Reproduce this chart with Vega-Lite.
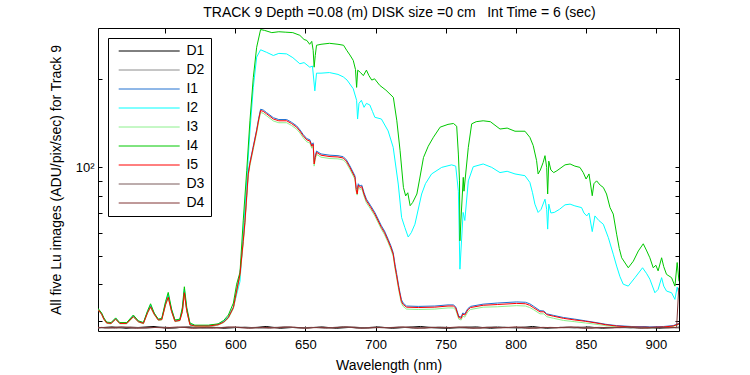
{
"$schema": "https://vega.github.io/schema/vega-lite/v6.json",
"width": 581, "height": 303,
"autosize": {"type": "none"},
"padding": {"left": 98, "top": 28, "right": 71, "bottom": 44},
"background": "white",
"title": {"text": "TRACK 9 Depth =0.08 (m) DISK size =0 cm \u00a0 Int Time = 6 (sec)", "fontSize": 14, "fontWeight": "normal", "font": "Liberation Sans", "color": "black", "anchor": "middle", "dx": 11, "dy": 14, "offset": 8, "baseline": "bottom"},
"config": {
  "font": "Liberation Sans",
  "view": {"stroke": "black", "strokeWidth": 1},
  "axis": {"labelFont": "Liberation Sans", "titleFont": "Liberation Sans", "labelColor": "black", "titleColor": "black", "tickColor": "black", "tickWidth": 1, "domain": false, "grid": false, "titleFontWeight": "normal"}
},
"data": {"values": [
{"s":"D1","w":502,"v":28.5},{"s":"D1","w":512,"v":28.7},{"s":"D1","w":522,"v":28.4},{"s":"D1","w":532,"v":28.6},{"s":"D1","w":542,"v":28.8},{"s":"D1","w":552,"v":28.4},{"s":"D1","w":562,"v":28.6},{"s":"D1","w":572,"v":28.5},{"s":"D1","w":582,"v":28.7},{"s":"D1","w":592,"v":28.4},{"s":"D1","w":602,"v":28.6},{"s":"D1","w":612,"v":28.5},{"s":"D1","w":622,"v":28.8},{"s":"D1","w":632,"v":28.4},{"s":"D1","w":642,"v":28.6},{"s":"D1","w":652,"v":28.5},{"s":"D1","w":662,"v":28.7},{"s":"D1","w":672,"v":28.4},{"s":"D1","w":682,"v":28.6},{"s":"D1","w":692,"v":28.5},{"s":"D1","w":702,"v":28.7},{"s":"D1","w":712,"v":28.4},{"s":"D1","w":722,"v":28.6},{"s":"D1","w":732,"v":28.8},{"s":"D1","w":742,"v":28.5},{"s":"D1","w":752,"v":28.4},{"s":"D1","w":762,"v":28.6},{"s":"D1","w":772,"v":28.7},{"s":"D1","w":782,"v":28.4},{"s":"D1","w":792,"v":28.6},{"s":"D1","w":802,"v":28.5},{"s":"D1","w":812,"v":28.8},{"s":"D1","w":822,"v":28.4},{"s":"D1","w":832,"v":28.6},{"s":"D1","w":842,"v":28.5},{"s":"D1","w":852,"v":28.7},{"s":"D1","w":862,"v":28.4},{"s":"D1","w":872,"v":28.6},{"s":"D1","w":882,"v":28.5},{"s":"D1","w":892,"v":28.7},{"s":"D1","w":902,"v":28.4},{"s":"D1","w":912,"v":28.6},{"s":"D1","w":916.5,"v":28.5},
{"s":"D2","w":502,"v":28.6},{"s":"D2","w":507,"v":28.4},{"s":"D2","w":517,"v":28.7},{"s":"D2","w":527,"v":28.5},{"s":"D2","w":537,"v":28.4},{"s":"D2","w":547,"v":28.7},{"s":"D2","w":557,"v":28.5},{"s":"D2","w":567,"v":28.8},{"s":"D2","w":577,"v":28.4},{"s":"D2","w":587,"v":28.6},{"s":"D2","w":597,"v":28.5},{"s":"D2","w":607,"v":28.7},{"s":"D2","w":617,"v":28.4},{"s":"D2","w":627,"v":28.6},{"s":"D2","w":637,"v":28.7},{"s":"D2","w":647,"v":28.4},{"s":"D2","w":657,"v":28.6},{"s":"D2","w":667,"v":28.5},{"s":"D2","w":677,"v":28.8},{"s":"D2","w":687,"v":28.4},{"s":"D2","w":697,"v":28.6},{"s":"D2","w":707,"v":28.5},{"s":"D2","w":717,"v":28.7},{"s":"D2","w":727,"v":28.4},{"s":"D2","w":737,"v":28.6},{"s":"D2","w":747,"v":28.7},{"s":"D2","w":757,"v":28.5},{"s":"D2","w":767,"v":28.4},{"s":"D2","w":777,"v":28.6},{"s":"D2","w":787,"v":28.8},{"s":"D2","w":797,"v":28.5},{"s":"D2","w":807,"v":28.4},{"s":"D2","w":817,"v":28.6},{"s":"D2","w":827,"v":28.5},{"s":"D2","w":837,"v":28.7},{"s":"D2","w":847,"v":28.4},{"s":"D2","w":857,"v":28.6},{"s":"D2","w":867,"v":28.5},{"s":"D2","w":877,"v":28.7},{"s":"D2","w":887,"v":28.4},{"s":"D2","w":897,"v":28.6},{"s":"D2","w":907,"v":28.5},{"s":"D2","w":916.5,"v":28.6},
{"s":"I1","w":502,"v":33.0},{"s":"I1","w":504.6,"v":31.8},{"s":"I1","w":506.2,"v":30.6},{"s":"I1","w":508.2,"v":29.7},{"s":"I1","w":511.3,"v":29.6},{"s":"I1","w":514.6,"v":30.6},{"s":"I1","w":517.5,"v":29.6},{"s":"I1","w":522.5,"v":29.5},{"s":"I1","w":527.2,"v":31.3},{"s":"I1","w":530.8,"v":30.0},{"s":"I1","w":534.4,"v":29.6},{"s":"I1","w":537.4,"v":32.3},{"s":"I1","w":539.5,"v":33.8},{"s":"I1","w":542.1,"v":31.8},{"s":"I1","w":545,"v":30.4},{"s":"I1","w":547.5,"v":30.5},{"s":"I1","w":550.2,"v":34.4},{"s":"I1","w":552.1,"v":36.5},{"s":"I1","w":554.5,"v":32.6},{"s":"I1","w":556.9,"v":30.1},{"s":"I1","w":560.4,"v":30.3},{"s":"I1","w":562.2,"v":32.6},{"s":"I1","w":563.6,"v":37.8},{"s":"I1","w":565.3,"v":32.8},{"s":"I1","w":567.6,"v":29.3},{"s":"I1","w":571.1,"v":29.0},{"s":"I1","w":580.7,"v":29.0},{"s":"I1","w":587.7,"v":29.3},{"s":"I1","w":591.7,"v":29.9},{"s":"I1","w":595,"v":31.0},{"s":"I1","w":598.6,"v":33.5},{"s":"I1","w":600.9,"v":38.2},{"s":"I1","w":603.3,"v":43.6},{"s":"I1","w":605.6,"v":56.5},{"s":"I1","w":606.8,"v":65.6},{"s":"I1","w":608.1,"v":81},{"s":"I1","w":609.2,"v":96},{"s":"I1","w":610.4,"v":104},{"s":"I1","w":612.8,"v":118.2},{"s":"I1","w":615.2,"v":134.3},{"s":"I1","w":616.6,"v":146.5},{"s":"I1","w":618,"v":157.6},{"s":"I1","w":619.9,"v":156.6},{"s":"I1","w":622.3,"v":153.5},{"s":"I1","w":627.1,"v":147.5},{"s":"I1","w":631,"v":145.4},{"s":"I1","w":636.6,"v":145.4},{"s":"I1","w":640,"v":142.4},{"s":"I1","w":643.7,"v":138.4},{"s":"I1","w":646,"v":134.3},{"s":"I1","w":648.4,"v":129.3},{"s":"I1","w":651,"v":125.2},{"s":"I1","w":653.1,"v":124.2},{"s":"I1","w":654.5,"v":119.2},{"s":"I1","w":655.5,"v":121.2},{"s":"I1","w":656.2,"v":104.5},{"s":"I1","w":657,"v":109.1},{"s":"I1","w":657.9,"v":113.6},{"s":"I1","w":661.1,"v":111.1},{"s":"I1","w":667.5,"v":110},{"s":"I1","w":673.2,"v":109.6},{"s":"I1","w":677,"v":108.7},{"s":"I1","w":679.2,"v":106.1},{"s":"I1","w":681.7,"v":101.2},{"s":"I1","w":685.3,"v":93.6},{"s":"I1","w":686.2,"v":85.5},{"s":"I1","w":686.9,"v":84},{"s":"I1","w":687.7,"v":88},{"s":"I1","w":688.8,"v":86.5},{"s":"I1","w":690.2,"v":87},{"s":"I1","w":691.8,"v":82},{"s":"I1","w":693.5,"v":78},{"s":"I1","w":696.3,"v":74.4},{"s":"I1","w":699.5,"v":70.3},{"s":"I1","w":704.2,"v":63.3},{"s":"I1","w":706.4,"v":60.8},{"s":"I1","w":709,"v":57},{"s":"I1","w":710.9,"v":54.2},{"s":"I1","w":712.6,"v":51.3},{"s":"I1","w":713.9,"v":46.8},{"s":"I1","w":714.9,"v":44},{"s":"I1","w":716.5,"v":39.6},{"s":"I1","w":717.4,"v":37.6},{"s":"I1","w":718.5,"v":35.5},{"s":"I1","w":719.7,"v":34.6},{"s":"I1","w":722.1,"v":33.8},{"s":"I1","w":730.5,"v":33.7},{"s":"I1","w":742.3,"v":33.8},{"s":"I1","w":751.7,"v":34.1},{"s":"I1","w":755.5,"v":34.1},{"s":"I1","w":757.2,"v":33.6},{"s":"I1","w":759.4,"v":31.2},{"s":"I1","w":761.1,"v":31.0},{"s":"I1","w":762.2,"v":32.0},{"s":"I1","w":763.7,"v":31.8},{"s":"I1","w":765.8,"v":33.1},{"s":"I1","w":767.8,"v":33.7},{"s":"I1","w":776.8,"v":34.3},{"s":"I1","w":786.9,"v":34.6},{"s":"I1","w":800.7,"v":34.9},{"s":"I1","w":807,"v":34.8},{"s":"I1","w":810,"v":34.4},{"s":"I1","w":812.5,"v":33.8},{"s":"I1","w":817.3,"v":32.6},{"s":"I1","w":820.1,"v":32.5},{"s":"I1","w":822.1,"v":31.8},{"s":"I1","w":827.1,"v":31.4},{"s":"I1","w":834,"v":30.9},{"s":"I1","w":842.2,"v":30.5},{"s":"I1","w":849.7,"v":30.1},{"s":"I1","w":857.3,"v":29.7},{"s":"I1","w":864.3,"v":29.3},{"s":"I1","w":872,"v":29.0},{"s":"I1","w":882.4,"v":28.8},{"s":"I1","w":895.7,"v":28.7},{"s":"I1","w":905.6,"v":28.8},{"s":"I1","w":912.3,"v":29.0},{"s":"I1","w":916.5,"v":29.5},
{"s":"I2","w":502,"v":33},{"s":"I2","w":504.6,"v":31.9},{"s":"I2","w":506.2,"v":30.7},{"s":"I2","w":508.2,"v":29.7},{"s":"I2","w":511.3,"v":29.6},{"s":"I2","w":514.6,"v":30.7},{"s":"I2","w":517.5,"v":29.6},{"s":"I2","w":522.5,"v":29.6},{"s":"I2","w":527.2,"v":31.3},{"s":"I2","w":530.8,"v":30},{"s":"I2","w":534.4,"v":29.6},{"s":"I2","w":537.4,"v":32.4},{"s":"I2","w":539.5,"v":34.1},{"s":"I2","w":542.1,"v":31.9},{"s":"I2","w":545,"v":30.4},{"s":"I2","w":547.5,"v":30.6},{"s":"I2","w":550.2,"v":34.7},{"s":"I2","w":552.1,"v":37},{"s":"I2","w":554.5,"v":32.8},{"s":"I2","w":556.9,"v":30.2},{"s":"I2","w":560.4,"v":30.4},{"s":"I2","w":562.2,"v":33},{"s":"I2","w":563.6,"v":38.6},{"s":"I2","w":565.3,"v":33},{"s":"I2","w":567.6,"v":29.4},{"s":"I2","w":571.1,"v":29},{"s":"I2","w":580.7,"v":29.0},
{"s":"I2","w":587.7,"v":29.3},{"s":"I2","w":591.7,"v":30},{"s":"I2","w":595,"v":31},{"s":"I2","w":598.6,"v":33.5},{"s":"I2","w":600.9,"v":37},{"s":"I2","w":603.3,"v":41},{"s":"I2","w":605.6,"v":59.3},{"s":"I2","w":608.1,"v":90},{"s":"I2","w":610.4,"v":133},{"s":"I2","w":612.8,"v":187},{"s":"I2","w":615.2,"v":237},{"s":"I2","w":618,"v":251},{"s":"I2","w":622.3,"v":246},{"s":"I2","w":627.1,"v":240},{"s":"I2","w":631,"v":244},{"s":"I2","w":636.6,"v":243},{"s":"I2","w":641,"v":236},{"s":"I2","w":646,"v":225},{"s":"I2","w":649,"v":227},{"s":"I2","w":653.1,"v":219},{"s":"I2","w":655,"v":221},{"s":"I2","w":656.7,"v":182},{"s":"I2","w":657.9,"v":209},{"s":"I2","w":661.1,"v":209},{"s":"I2","w":667.1,"v":210},{"s":"I2","w":673.2,"v":207},{"s":"I2","w":677,"v":203},{"s":"I2","w":679.7,"v":198},{"s":"I2","w":684.1,"v":185},{"s":"I2","w":686.5,"v":169},{"s":"I2","w":687.2,"v":146},{"s":"I2","w":688.2,"v":165},{"s":"I2","w":689.9,"v":169},{"s":"I2","w":691.8,"v":160},{"s":"I2","w":693.5,"v":165},{"s":"I2","w":695.9,"v":163},{"s":"I2","w":697.8,"v":155},{"s":"I2","w":699.5,"v":148},{"s":"I2","w":704.2,"v":146},{"s":"I2","w":709,"v":133},{"s":"I2","w":712.6,"v":117},{"s":"I2","w":716.2,"v":87.8},{"s":"I2","w":718.6,"v":67.6},{"s":"I2","w":720.9,"v":62.5},{"s":"I2","w":723.3,"v":58},{"s":"I2","w":725.5,"v":60},{"s":"I2","w":728.1,"v":64.1},{"s":"I2","w":732.9,"v":81.2},{"s":"I2","w":735.6,"v":88},{"s":"I2","w":740,"v":95},{"s":"I2","w":747.2,"v":100},{"s":"I2","w":754.3,"v":102},{"s":"I2","w":757.2,"v":101},{"s":"I2","w":759.1,"v":83},{"s":"I2","w":760.2,"v":45.1},{"s":"I2","w":762.5,"v":70.3},{"s":"I2","w":763.7,"v":66},{"s":"I2","w":766.2,"v":90},{"s":"I2","w":769.7,"v":100.5},{"s":"I2","w":776.8,"v":102.7},{"s":"I2","w":782.9,"v":100},{"s":"I2","w":788.8,"v":96},{"s":"I2","w":793.9,"v":97},{"s":"I2","w":799.5,"v":95},{"s":"I2","w":806.6,"v":93.7},{"s":"I2","w":810.1,"v":88.9},{"s":"I2","w":812,"v":82},{"s":"I2","w":813.7,"v":75},{"s":"I2","w":816,"v":70.3},{"s":"I2","w":818.1,"v":72},{"s":"I2","w":820.9,"v":78},{"s":"I2","w":822.1,"v":72},{"s":"I2","w":822.8,"v":61.7},{"s":"I2","w":823.6,"v":75},{"s":"I2","w":825.1,"v":70},{"s":"I2","w":827.5,"v":70.3},{"s":"I2","w":831.2,"v":72},{"s":"I2","w":835.2,"v":74.6},{"s":"I2","w":838.8,"v":75},{"s":"I2","w":842.2,"v":74},{"s":"I2","w":847,"v":73},{"s":"I2","w":848.7,"v":70},{"s":"I2","w":850.7,"v":68.4},{"s":"I2","w":852.3,"v":70},{"s":"I2","w":854.6,"v":60.5},{"s":"I2","w":856.5,"v":68.4},{"s":"I2","w":859.3,"v":66},{"s":"I2","w":862.5,"v":64.1},{"s":"I2","w":866.1,"v":57.7},{"s":"I2","w":869.6,"v":50.7},{"s":"I2","w":872,"v":46.2},{"s":"I2","w":874.4,"v":42.5},{"s":"I2","w":876.7,"v":40.1},{"s":"I2","w":880.3,"v":39.5},{"s":"I2","w":885.1,"v":42.2},{"s":"I2","w":890.5,"v":45.6},{"s":"I2","w":893.5,"v":43.5},{"s":"I2","w":895.7,"v":41.7},{"s":"I2","w":899.3,"v":37.5},{"s":"I2","w":901.6,"v":38.5},{"s":"I2","w":904.1,"v":42.2},{"s":"I2","w":905.6,"v":39.5},{"s":"I2","w":907.6,"v":38},{"s":"I2","w":911.2,"v":37.5},{"s":"I2","w":913.6,"v":35.6},{"s":"I2","w":915.2,"v":39.2},{"s":"I2","w":916.5,"v":37},
{"s":"I3","w":502,"v":32.8},{"s":"I3","w":504.6,"v":31.6},{"s":"I3","w":506.2,"v":30.4},{"s":"I3","w":508.2,"v":29.5},{"s":"I3","w":511.3,"v":29.4},{"s":"I3","w":514.6,"v":30.4},{"s":"I3","w":517.5,"v":29.4},{"s":"I3","w":522.5,"v":29.4},{"s":"I3","w":527.2,"v":31.0},{"s":"I3","w":530.8,"v":29.8},{"s":"I3","w":534.4,"v":29.4},{"s":"I3","w":537.4,"v":32.0},{"s":"I3","w":539.5,"v":33.4},{"s":"I3","w":542.1,"v":31.6},{"s":"I3","w":545,"v":30.2},{"s":"I3","w":547.5,"v":30.3},{"s":"I3","w":550.2,"v":34.0},{"s":"I3","w":552.1,"v":36.0},{"s":"I3","w":554.5,"v":32.3},{"s":"I3","w":556.9,"v":29.9},{"s":"I3","w":560.4,"v":30.1},{"s":"I3","w":562.2,"v":32.2},{"s":"I3","w":563.6,"v":37.2},{"s":"I3","w":565.3,"v":32.5},{"s":"I3","w":567.6,"v":29.1},{"s":"I3","w":571.1,"v":28.8},{"s":"I3","w":580.7,"v":28.8},{"s":"I3","w":587.7,"v":29.1},{"s":"I3","w":591.7,"v":29.7},{"s":"I3","w":595,"v":30.7},{"s":"I3","w":598.6,"v":33.1},{"s":"I3","w":600.9,"v":37.5},{"s":"I3","w":603.3,"v":42.7},{"s":"I3","w":605.6,"v":55},{"s":"I3","w":606.8,"v":64},{"s":"I3","w":608.1,"v":78.8},{"s":"I3","w":609.2,"v":93.6},{"s":"I3","w":610.4,"v":101.5},{"s":"I3","w":612.8,"v":115.2},{"s":"I3","w":615.2,"v":131},{"s":"I3","w":616.6,"v":142.8},{"s":"I3","w":618,"v":153.7},{"s":"I3","w":619.9,"v":152.7},{"s":"I3","w":622.3,"v":149.7},{"s":"I3","w":627.1,"v":143.8},{"s":"I3","w":631,"v":141.8},{"s":"I3","w":636.6,"v":141.8},{"s":"I3","w":640,"v":138.9},{"s":"I3","w":643.7,"v":134.9},{"s":"I3","w":646,"v":131},{"s":"I3","w":648.4,"v":126.1},{"s":"I3","w":651,"v":122.1},{"s":"I3","w":653.1,"v":121.2},{"s":"I3","w":654.5,"v":116.2},{"s":"I3","w":655.5,"v":118.2},{"s":"I3","w":656.2,"v":101},{"s":"I3","w":657,"v":106.4},{"s":"I3","w":657.9,"v":110.8},{"s":"I3","w":661.1,"v":108.3},{"s":"I3","w":667.5,"v":107.2},{"s":"I3","w":673.2,"v":106.9},{"s":"I3","w":677,"v":106},{"s":"I3","w":679.2,"v":103.4},{"s":"I3","w":681.7,"v":98.5},{"s":"I3","w":685.3,"v":91.1},{"s":"I3","w":686.2,"v":83},{"s":"I3","w":686.9,"v":80.5},{"s":"I3","w":687.7,"v":85.7},{"s":"I3","w":688.8,"v":84.2},{"s":"I3","w":690.2,"v":84.7},{"s":"I3","w":691.8,"v":79.8},{"s":"I3","w":693.5,"v":75.8},{"s":"I3","w":696.3,"v":72.4},{"s":"I3","w":699.5,"v":68.4},{"s":"I3","w":704.2,"v":61.6},{"s":"I3","w":706.4,"v":59.1},{"s":"I3","w":709,"v":55.5},{"s":"I3","w":710.9,"v":52.7},{"s":"I3","w":712.6,"v":49.9},{"s":"I3","w":713.9,"v":45.3},{"s":"I3","w":714.9,"v":42.6},{"s":"I3","w":716.5,"v":38.4},{"s":"I3","w":717.4,"v":36.5},{"s":"I3","w":718.5,"v":34.5},{"s":"I3","w":719.7,"v":33.7},{"s":"I3","w":722.1,"v":33.0},{"s":"I3","w":730.5,"v":32.9},{"s":"I3","w":742.3,"v":33.0},{"s":"I3","w":751.7,"v":33.3},{"s":"I3","w":755.5,"v":33.3},{"s":"I3","w":757.2,"v":32.8},{"s":"I3","w":759.4,"v":30.5},{"s":"I3","w":761.1,"v":30.3},{"s":"I3","w":762.2,"v":31.2},{"s":"I3","w":763.7,"v":31.0},{"s":"I3","w":765.8,"v":32.3},{"s":"I3","w":767.8,"v":32.9},{"s":"I3","w":776.8,"v":33.5},{"s":"I3","w":786.9,"v":33.6},{"s":"I3","w":800.7,"v":33.9},{"s":"I3","w":807,"v":33.8},{"s":"I3","w":810,"v":33.4},{"s":"I3","w":812.5,"v":32.9},{"s":"I3","w":817.3,"v":31.8},{"s":"I3","w":820.1,"v":31.8},{"s":"I3","w":822.1,"v":31.1},{"s":"I3","w":827.1,"v":30.7},{"s":"I3","w":834,"v":30.2},{"s":"I3","w":842.2,"v":29.9},{"s":"I3","w":849.7,"v":29.6},{"s":"I3","w":857.3,"v":29.3},{"s":"I3","w":864.3,"v":29.0},{"s":"I3","w":872,"v":28.7},{"s":"I3","w":882.4,"v":28.6},{"s":"I3","w":895.7,"v":28.5},{"s":"I3","w":905.6,"v":28.6},{"s":"I3","w":912.3,"v":28.8},{"s":"I3","w":916.5,"v":29.3},
{"s":"I4","w":502,"v":33.2},{"s":"I4","w":504.6,"v":32},{"s":"I4","w":506.2,"v":30.8},{"s":"I4","w":508.2,"v":29.8},{"s":"I4","w":511.3,"v":29.7},{"s":"I4","w":514.6,"v":30.8},{"s":"I4","w":517.5,"v":29.7},{"s":"I4","w":522.5,"v":29.7},{"s":"I4","w":527.2,"v":31.5},{"s":"I4","w":530.8,"v":30.1},{"s":"I4","w":534.4,"v":29.7},{"s":"I4","w":537.4,"v":32.6},{"s":"I4","w":539.5,"v":34.4},{"s":"I4","w":542.1,"v":32},{"s":"I4","w":545,"v":30.5},{"s":"I4","w":547.5,"v":30.7},{"s":"I4","w":550.2,"v":35},{"s":"I4","w":552.1,"v":37.6},{"s":"I4","w":554.5,"v":33},{"s":"I4","w":556.9,"v":30.3},{"s":"I4","w":560.4,"v":30.5},{"s":"I4","w":562.2,"v":33.5},{"s":"I4","w":563.6,"v":39.3},{"s":"I4","w":565.3,"v":33.5},{"s":"I4","w":567.6,"v":29.6},{"s":"I4","w":571.1,"v":29.1},{"s":"I4","w":580.7,"v":29.1},
{"s":"I4","w":587.7,"v":29.4},{"s":"I4","w":591.7,"v":30.2},{"s":"I4","w":595,"v":31.5},{"s":"I4","w":598.6,"v":34.6},{"s":"I4","w":600.9,"v":40.1},{"s":"I4","w":603.3,"v":44},{"s":"I4","w":605.6,"v":65.8},{"s":"I4","w":608.1,"v":97.4},{"s":"I4","w":610.4,"v":144},{"s":"I4","w":612.8,"v":202},{"s":"I4","w":615.2,"v":256},{"s":"I4","w":618,"v":294},{"s":"I4","w":620.9,"v":292},{"s":"I4","w":626,"v":287},{"s":"I4","w":631,"v":289},{"s":"I4","w":636,"v":288},{"s":"I4","w":641,"v":287},{"s":"I4","w":646,"v":281},{"s":"I4","w":649,"v":272},{"s":"I4","w":651,"v":270},{"s":"I4","w":653,"v":262},{"s":"I4","w":654.5,"v":268},{"s":"I4","w":655.5,"v":250},{"s":"I4","w":656.2,"v":219},{"s":"I4","w":657,"v":240},{"s":"I4","w":657.9,"v":260},{"s":"I4","w":661.1,"v":262},{"s":"I4","w":667.1,"v":264},{"s":"I4","w":673.2,"v":262},{"s":"I4","w":677.2,"v":260},{"s":"I4","w":679.4,"v":250},{"s":"I4","w":681.7,"v":241},{"s":"I4","w":684.1,"v":231},{"s":"I4","w":685.7,"v":215},{"s":"I4","w":686.5,"v":187},{"s":"I4","w":687.3,"v":214},{"s":"I4","w":689.3,"v":210},{"s":"I4","w":691.3,"v":205},{"s":"I4","w":693.5,"v":214},{"s":"I4","w":695.3,"v":205},{"s":"I4","w":697.3,"v":198},{"s":"I4","w":699.3,"v":200},{"s":"I4","w":703,"v":190},{"s":"I4","w":707.4,"v":183},{"s":"I4","w":712.7,"v":173},{"s":"I4","w":715.2,"v":144},{"s":"I4","w":717.5,"v":114},{"s":"I4","w":719.9,"v":85.5},{"s":"I4","w":721.5,"v":80},{"s":"I4","w":723,"v":82},{"s":"I4","w":724.7,"v":74.1},{"s":"I4","w":726.5,"v":76},{"s":"I4","w":729.5,"v":81.2},{"s":"I4","w":731.6,"v":92},{"s":"I4","w":734.2,"v":108},{"s":"I4","w":737.6,"v":118},{"s":"I4","w":741.3,"v":126.6},{"s":"I4","w":746.1,"v":137},{"s":"I4","w":751.7,"v":140},{"s":"I4","w":755.6,"v":141},{"s":"I4","w":757.9,"v":138},{"s":"I4","w":759.1,"v":111},{"s":"I4","w":759.9,"v":90},{"s":"I4","w":760.2,"v":56.3},{"s":"I4","w":761.2,"v":70},{"s":"I4","w":762.6,"v":92.5},{"s":"I4","w":763.1,"v":83},{"s":"I4","w":766.2,"v":117},{"s":"I4","w":768.6,"v":140.6},{"s":"I4","w":771.8,"v":143},{"s":"I4","w":776.8,"v":144},{"s":"I4","w":781.9,"v":143},{"s":"I4","w":788.8,"v":135},{"s":"I4","w":793.9,"v":136},{"s":"I4","w":799.5,"v":132.7},{"s":"I4","w":806.6,"v":132.7},{"s":"I4","w":810.1,"v":126.5},{"s":"I4","w":812.5,"v":118.6},{"s":"I4","w":814.9,"v":105.4},{"s":"I4","w":816,"v":95},{"s":"I4","w":817.6,"v":98},{"s":"I4","w":819.6,"v":104},{"s":"I4","w":820.9,"v":109.6},{"s":"I4","w":822.1,"v":100},{"s":"I4","w":822.8,"v":81.2},{"s":"I4","w":823.6,"v":105},{"s":"I4","w":825.1,"v":98},{"s":"I4","w":827.1,"v":96},{"s":"I4","w":829.4,"v":97.4},{"s":"I4","w":835.2,"v":102},{"s":"I4","w":838.8,"v":102.7},{"s":"I4","w":842.2,"v":101},{"s":"I4","w":845.8,"v":100},{"s":"I4","w":848.2,"v":96},{"s":"I4","w":850.2,"v":91.3},{"s":"I4","w":852.3,"v":95},{"s":"I4","w":854.6,"v":80.1},{"s":"I4","w":855.8,"v":88},{"s":"I4","w":857.7,"v":90},{"s":"I4","w":860.3,"v":87},{"s":"I4","w":862.5,"v":85.5},{"s":"I4","w":864.8,"v":81.2},{"s":"I4","w":867.3,"v":73},{"s":"I4","w":869.6,"v":69.4},{"s":"I4","w":872,"v":59.3},{"s":"I4","w":873.9,"v":53},{"s":"I4","w":875.6,"v":49.3},{"s":"I4","w":880.3,"v":45.6},{"s":"I4","w":883.9,"v":48},{"s":"I4","w":887.5,"v":52},{"s":"I4","w":891,"v":55},{"s":"I4","w":893.5,"v":52},{"s":"I4","w":895.7,"v":49.3},{"s":"I4","w":898.1,"v":45.6},{"s":"I4","w":900,"v":46.5},{"s":"I4","w":901.6,"v":44.5},{"s":"I4","w":904.1,"v":49.3},{"s":"I4","w":905.6,"v":46},{"s":"I4","w":907.6,"v":43.3},{"s":"I4","w":911.2,"v":42.2},{"s":"I4","w":913.6,"v":39.5},{"s":"I4","w":915.2,"v":47.5},{"s":"I4","w":916.5,"v":41},
{"s":"I5","w":502,"v":32.9},{"s":"I5","w":504.6,"v":31.7},{"s":"I5","w":506.2,"v":30.5},{"s":"I5","w":508.2,"v":29.6},{"s":"I5","w":511.3,"v":29.5},{"s":"I5","w":514.6,"v":30.5},{"s":"I5","w":517.5,"v":29.5},{"s":"I5","w":522.5,"v":29.5},{"s":"I5","w":527.2,"v":31.1},{"s":"I5","w":530.8,"v":29.9},{"s":"I5","w":534.4,"v":29.5},{"s":"I5","w":537.4,"v":32.1},{"s":"I5","w":539.5,"v":33.6},{"s":"I5","w":542.1,"v":31.7},{"s":"I5","w":545,"v":30.3},{"s":"I5","w":547.5,"v":30.4},{"s":"I5","w":550.2,"v":34.2},{"s":"I5","w":552.1,"v":36.2},{"s":"I5","w":554.5,"v":32.4},{"s":"I5","w":556.9,"v":30},{"s":"I5","w":560.4,"v":30.2},{"s":"I5","w":562.2,"v":32.4},{"s":"I5","w":563.6,"v":37.5},{"s":"I5","w":565.3,"v":32.6},{"s":"I5","w":567.6,"v":29.2},{"s":"I5","w":571.1,"v":28.9},{"s":"I5","w":580.7,"v":28.9},{"s":"I5","w":587.7,"v":29.2},{"s":"I5","w":591.7,"v":29.8},{"s":"I5","w":595,"v":30.9},{"s":"I5","w":598.6,"v":33.4},{"s":"I5","w":600.9,"v":38},{"s":"I5","w":603.3,"v":43.3},{"s":"I5","w":605.6,"v":56},{"s":"I5","w":606.8,"v":65},{"s":"I5","w":608.1,"v":80},{"s":"I5","w":609.2,"v":95},{"s":"I5","w":610.4,"v":103},{"s":"I5","w":612.8,"v":117},{"s":"I5","w":615.2,"v":133},{"s":"I5","w":616.6,"v":145},{"s":"I5","w":618,"v":156},{"s":"I5","w":619.9,"v":155},{"s":"I5","w":622.3,"v":152},{"s":"I5","w":627.1,"v":146},{"s":"I5","w":631,"v":144},{"s":"I5","w":636.6,"v":144},{"s":"I5","w":640,"v":141},{"s":"I5","w":643.7,"v":137},{"s":"I5","w":646,"v":133},{"s":"I5","w":648.4,"v":128},{"s":"I5","w":651,"v":124},{"s":"I5","w":653.1,"v":123},{"s":"I5","w":654.5,"v":118},{"s":"I5","w":655.5,"v":120},{"s":"I5","w":656.2,"v":102.7},{"s":"I5","w":657,"v":108},{"s":"I5","w":657.9,"v":112.5},{"s":"I5","w":661.1,"v":110},{"s":"I5","w":667.5,"v":108.8},{"s":"I5","w":673.2,"v":108.5},{"s":"I5","w":677,"v":107.6},{"s":"I5","w":679.2,"v":105},{"s":"I5","w":681.7,"v":100},{"s":"I5","w":685.3,"v":92.5},{"s":"I5","w":686.2,"v":84},{"s":"I5","w":686.9,"v":81.2},{"s":"I5","w":687.7,"v":87},{"s":"I5","w":688.8,"v":85.5},{"s":"I5","w":690.2,"v":86},{"s":"I5","w":691.8,"v":81},{"s":"I5","w":693.5,"v":77},{"s":"I5","w":696.3,"v":73.5},{"s":"I5","w":699.5,"v":69.4},{"s":"I5","w":704.2,"v":62.5},{"s":"I5","w":706.4,"v":60},{"s":"I5","w":709,"v":56.3},{"s":"I5","w":710.9,"v":53.5},{"s":"I5","w":712.6,"v":50.7},{"s":"I5","w":713.9,"v":46},{"s":"I5","w":714.9,"v":43.3},{"s":"I5","w":716.5,"v":39},{"s":"I5","w":717.4,"v":37.1},{"s":"I5","w":718.5,"v":35},{"s":"I5","w":719.7,"v":34.2},{"s":"I5","w":722.1,"v":33.5},{"s":"I5","w":730.5,"v":33.4},{"s":"I5","w":742.3,"v":33.5},{"s":"I5","w":751.7,"v":33.8},{"s":"I5","w":755.5,"v":33.8},{"s":"I5","w":757.2,"v":33.3},{"s":"I5","w":759.4,"v":30.9},{"s":"I5","w":761.1,"v":30.7},{"s":"I5","w":762.2,"v":31.7},{"s":"I5","w":763.7,"v":31.5},{"s":"I5","w":765.8,"v":32.8},{"s":"I5","w":767.8,"v":33.4},{"s":"I5","w":776.8,"v":34},{"s":"I5","w":786.9,"v":34.2},{"s":"I5","w":800.7,"v":34.5},{"s":"I5","w":807,"v":34.4},{"s":"I5","w":810,"v":34},{"s":"I5","w":812.5,"v":33.4},{"s":"I5","w":817.3,"v":32.3},{"s":"I5","w":820.1,"v":32.3},{"s":"I5","w":822.1,"v":31.6},{"s":"I5","w":827.1,"v":31.2},{"s":"I5","w":834,"v":30.7},{"s":"I5","w":842.2,"v":30.3},{"s":"I5","w":849.7,"v":30},{"s":"I5","w":857.3,"v":29.6},{"s":"I5","w":864.3,"v":29.2},{"s":"I5","w":872,"v":28.9},{"s":"I5","w":882.4,"v":28.7},{"s":"I5","w":895.7,"v":28.6},{"s":"I5","w":905.6,"v":28.7},{"s":"I5","w":912.3,"v":28.9},{"s":"I5","w":916.5,"v":29.4},
{"s":"D3","w":502,"v":28.4},{"s":"D3","w":504.5,"v":28.6},{"s":"D3","w":514.5,"v":28.4},{"s":"D3","w":524.5,"v":28.7},{"s":"D3","w":534.5,"v":28.5},{"s":"D3","w":544.5,"v":28.6},{"s":"D3","w":554.5,"v":28.4},{"s":"D3","w":564.5,"v":28.7},{"s":"D3","w":574.5,"v":28.5},{"s":"D3","w":584.5,"v":28.4},{"s":"D3","w":594.5,"v":28.7},{"s":"D3","w":604.5,"v":28.5},{"s":"D3","w":614.5,"v":28.6},{"s":"D3","w":624.5,"v":28.4},{"s":"D3","w":634.5,"v":28.7},{"s":"D3","w":644.5,"v":28.5},{"s":"D3","w":654.5,"v":28.6},{"s":"D3","w":664.5,"v":28.4},{"s":"D3","w":674.5,"v":28.6},{"s":"D3","w":684.5,"v":28.7},{"s":"D3","w":694.5,"v":28.4},{"s":"D3","w":704.5,"v":28.6},{"s":"D3","w":714.5,"v":28.5},{"s":"D3","w":724.5,"v":28.7},{"s":"D3","w":734.5,"v":28.4},{"s":"D3","w":744.5,"v":28.6},{"s":"D3","w":754.5,"v":28.5},{"s":"D3","w":764.5,"v":28.7},{"s":"D3","w":774.5,"v":28.4},{"s":"D3","w":784.5,"v":28.6},{"s":"D3","w":794.5,"v":28.5},{"s":"D3","w":804.5,"v":28.7},{"s":"D3","w":814.5,"v":28.4},{"s":"D3","w":824.5,"v":28.6},{"s":"D3","w":834.5,"v":28.5},{"s":"D3","w":844.5,"v":28.7},{"s":"D3","w":854.5,"v":28.4},{"s":"D3","w":864.5,"v":28.6},{"s":"D3","w":874.5,"v":28.5},{"s":"D3","w":884.5,"v":28.7},{"s":"D3","w":894.5,"v":28.4},{"s":"D3","w":904.5,"v":28.6},{"s":"D3","w":914.5,"v":28.5},{"s":"D3","w":916.5,"v":28.7},
{"s":"D4","w":502,"v":28.6},{"s":"D4","w":509.5,"v":28.5},{"s":"D4","w":519.5,"v":28.7},{"s":"D4","w":529.5,"v":28.4},{"s":"D4","w":539.5,"v":28.6},{"s":"D4","w":549.5,"v":28.5},{"s":"D4","w":559.5,"v":28.7},{"s":"D4","w":569.5,"v":28.4},{"s":"D4","w":579.5,"v":28.6},{"s":"D4","w":589.5,"v":28.5},{"s":"D4","w":599.5,"v":28.7},{"s":"D4","w":609.5,"v":28.4},{"s":"D4","w":619.5,"v":28.6},{"s":"D4","w":629.5,"v":28.5},{"s":"D4","w":639.5,"v":28.7},{"s":"D4","w":649.5,"v":28.4},{"s":"D4","w":659.5,"v":28.6},{"s":"D4","w":669.5,"v":28.5},{"s":"D4","w":679.5,"v":28.7},{"s":"D4","w":689.5,"v":28.4},{"s":"D4","w":699.5,"v":28.6},{"s":"D4","w":709.5,"v":28.5},{"s":"D4","w":719.5,"v":28.7},{"s":"D4","w":729.5,"v":28.4},{"s":"D4","w":739.5,"v":28.6},{"s":"D4","w":749.5,"v":28.5},{"s":"D4","w":759.5,"v":28.7},{"s":"D4","w":769.5,"v":28.4},{"s":"D4","w":779.5,"v":28.6},{"s":"D4","w":789.5,"v":28.5},{"s":"D4","w":799.5,"v":28.7},{"s":"D4","w":809.5,"v":28.4},{"s":"D4","w":819.5,"v":28.6},{"s":"D4","w":829.5,"v":28.5},{"s":"D4","w":839.5,"v":28.7},{"s":"D4","w":849.5,"v":28.4},{"s":"D4","w":859.5,"v":28.6},{"s":"D4","w":869.5,"v":28.5},{"s":"D4","w":879.5,"v":28.7},{"s":"D4","w":889.5,"v":28.4},{"s":"D4","w":899.5,"v":28.6},{"s":"D4","w":909.5,"v":28.5},{"s":"D4","w":914.8,"v":28.6},{"s":"D4","w":916.3,"v":39}
]},
"layer": [
  {
    "mark": {"type": "line", "strokeWidth": 1, "clip": true},
    "encoding": {
      "x": {"field": "w", "type": "quantitative", "scale": {"domain": [502, 916.5], "nice": false, "zero": false},
        "axis": {"orient": "bottom", "values": [550,600,650,700,750,800,850,900], "tickSize": -5, "labelFontSize": 13, "labelPadding": 12, "labelFlush": false, "labelOverlap": false, "title": "Wavelength (nm)", "titleFontSize": 14, "titlePadding": 7}},
      "y": {"field": "v", "type": "quantitative", "scale": {"type": "log", "domain": [27.8, 297.6], "nice": false},
        "axis": {"orient": "left", "values": [30,40,50,60,70,80,90,100,200], "tickSize": -4, "labelExpr": "datum.value == 100 ? '10²' : ''", "labelFontSize": 13, "labelPadding": 8, "title": "All five Lu images (ADU/pix/sec) for Track 9", "titleFontSize": 14, "titlePadding": 12,
          "encode": {"ticks": {"update": {"x2": {"signal": "datum.value == 100 ? 8 : 4"}}}}}},
      "color": {"field": "s", "type": "nominal",
        "scale": {"domain": ["D1","D2","I1","I2","I3","I4","I5","D3","D4"], "range": ["#000000","#8c8c8c","#2070d0","#00ffff","#8cf08c","#00c800","#ff0000","#7a5a5a","#803535"]},
        "legend": {"orient": "top-left", "offset": 10, "title": null, "padding": 6, "rowPadding": 5, "strokeColor": "black", "fillColor": "white", "cornerRadius": 0, "symbolType": "M-2.3,0H58.7", "symbolSize": 4, "symbolStrokeWidth": 1, "labelOffset": 58.4, "labelFontSize": 14, "labelFont": "Liberation Sans", "labelColor": "black", "labelExpr": "datum.label + '\u00a0\u00a0'"}}
    }
  },
  {
    "transform": [{"filter": "datum.s == 'D1'"}],
    "mark": {"type": "line", "opacity": 0},
    "encoding": {
      "x": {"field": "w", "type": "quantitative", "scale": {"domain": [502, 916.5], "nice": false, "zero": false},
        "axis": {"orient": "top", "values": [550,600,650,700,750,800,850,900], "tickSize": -5, "labels": false, "title": null, "minExtent": 0, "maxExtent": 0}},
      "y": {"field": "v", "type": "quantitative", "scale": {"type": "log", "domain": [27.8, 297.6], "nice": false},
        "axis": {"orient": "right", "values": [30,40,50,60,70,80,90,100,200], "tickSize": -4, "labels": false, "title": null, "minExtent": 0, "maxExtent": 0,
          "encode": {"ticks": {"update": {"x2": {"signal": "datum.value == 100 ? -8 : -4"}}}}}}
    }
  }
],
"resolve": {"axis": {"x": "independent", "y": "independent"}}
}
